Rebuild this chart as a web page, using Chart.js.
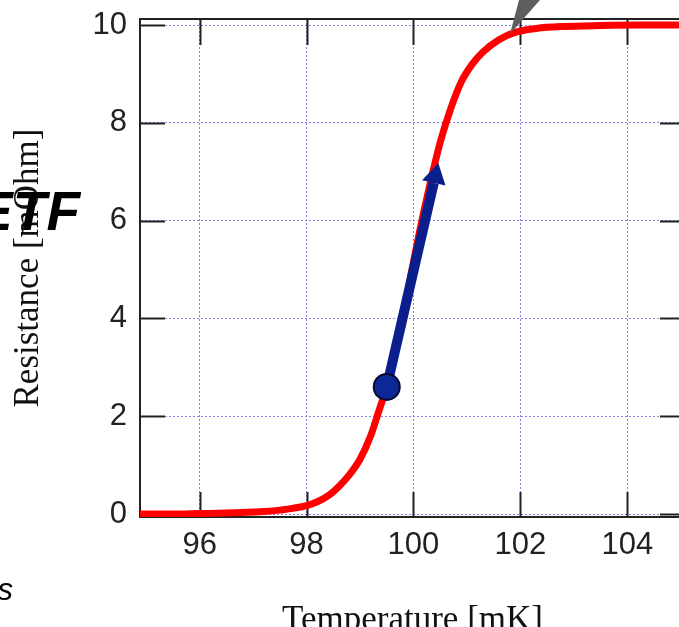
<!DOCTYPE html>
<html>
<head>
<meta charset="utf-8">
<script src="https://cdn.jsdelivr.net/npm/chart.js@4"></script>
<style>
html,body{margin:0;padding:0;overflow:hidden;background:#fff;width:679px;height:627px;}
#wrap{position:absolute;left:0;top:0;width:700px;height:627px;}
.ov{position:absolute;white-space:nowrap;color:#000;font-family:"Liberation Sans",Arial,sans-serif;}
#etf{right:599px;top:176px;font-size:55px;font-weight:bold;font-style:italic;line-height:70px;}
#s{right:666px;top:570px;font-size:31px;font-style:italic;line-height:40px;}
#ptr{position:absolute;left:0;top:0;}
</style>
</head>
<body>
<div id="wrap"><canvas id="c" width="700" height="627"></canvas></div>
<div class="ov" id="etf">ETF</div>
<div class="ov" id="s">s</div>
<svg id="ptr" width="679" height="627"><polygon points="510,34 519,0 540,0" fill="#5e5e5e"/></svg>
<script>
// Transition curve: temperature [mK] and resistance [mOhm]
const temperature = [94.9, 95.5, 96, 96.5, 97, 97.5, 98, 98.2, 98.4, 98.6, 98.8, 99.0, 99.2, 99.35, 99.5, 99.7, 99.9, 100.1, 100.3, 100.5, 100.7, 100.9, 101.1, 101.3, 101.6, 101.9, 102.3, 102.8, 103.5, 104.2, 105.1];
const resistance  = [0, 0, 0.01, 0.02, 0.04, 0.08, 0.17, 0.25, 0.37, 0.56, 0.8, 1.12, 1.6, 2.1, 2.6, 3.5, 4.6, 5.7, 6.7, 7.6, 8.3, 8.85, 9.2, 9.45, 9.7, 9.85, 9.93, 9.97, 9.99, 10, 10];
// Operating point and arrow (T, R)
const operatingPoint = [99.5, 2.6];
const arrowBase = [100.38, 6.77];
const arrowTip = [100.465, 7.18];
// Axis ticks
const xTicks = [96, 98, 100, 102, 104];
const yTicks = [0, 2, 4, 6, 8, 10];
const xRange = [94.884, 105.08];
const yRange = [-0.061, 10.123];

const curveData = temperature.map((t, i) => ({x: t, y: resistance[i]}));

const frame = {
  id: 'frame',
  beforeDatasetsDraw(chart) {
    const {ctx, chartArea: a, scales: {x, y}} = chart;
    ctx.save();
    ctx.strokeStyle = '#222';
    ctx.lineWidth = 2;
    ctx.beginPath();
    ctx.moveTo(a.left - 1, a.top); ctx.lineTo(a.right, a.top);
    xTicks.forEach(v => {
      const px = Math.round(x.getPixelForValue(v)) + 0.5;
      ctx.moveTo(px, a.bottom); ctx.lineTo(px, a.bottom - 25);
      ctx.moveTo(px, a.top); ctx.lineTo(px, a.top + 26);
    });
    yTicks.forEach(v => {
      const py = Math.round(y.getPixelForValue(v)) + 0.5;
      ctx.moveTo(a.left, py); ctx.lineTo(a.left + 25, py);
      ctx.moveTo(a.right, py); ctx.lineTo(a.right - 25, py);
    });
    ctx.stroke();
    ctx.restore();
  },
  afterDatasetsDraw(chart) {
    const {ctx, scales: {x, y}} = chart;
    const bx = x.getPixelForValue(arrowBase[0]), by = y.getPixelForValue(arrowBase[1]);
    const tx = x.getPixelForValue(arrowTip[0]), ty = y.getPixelForValue(arrowTip[1]);
    const dx = tx - bx, dy = ty - by, len = Math.hypot(dx, dy);
    const nx = -dy / len, ny = dx / len, hw = 12;
    ctx.save();
    ctx.fillStyle = '#0a1f8c';
    ctx.beginPath();
    ctx.moveTo(tx, ty);
    ctx.lineTo(bx + nx * hw, by + ny * hw);
    ctx.lineTo(bx - nx * hw, by - ny * hw);
    ctx.closePath();
    ctx.fill();
    ctx.restore();
  }
};

const gridOpts = {color: '#8585ec', lineWidth: 1, drawTicks: false};
const borderOpts = {display: true, color: '#222', width: 2, dash: [2, 2]};

new Chart(document.getElementById('c'), {
  type: 'scatter',
  data: {
    datasets: [
      {
        data: [{x: operatingPoint[0], y: operatingPoint[1]}],
        pointRadius: 13, pointBackgroundColor: '#0b2896', pointBorderColor: '#0a0a30', pointBorderWidth: 2,
        order: 0
      },
      {
        data: [{x: operatingPoint[0], y: operatingPoint[1]}, {x: arrowBase[0], y: arrowBase[1]}],
        showLine: true, borderColor: '#0a1f8c', borderWidth: 10, pointRadius: 0, borderCapStyle: 'butt',
        order: 1
      },
      {
        data: curveData,
        showLine: true, borderColor: '#ff0000', borderWidth: 7, pointRadius: 0,
        cubicInterpolationMode: 'monotone', borderJoinStyle: 'round', borderCapStyle: 'round',
        order: 2
      }
    ]
  },
  options: {
    responsive: false,
    animation: false,
    events: [],
    layout: {padding: {top: 19, right: 12, left: 0, bottom: 0}},
    plugins: {legend: {display: false}, tooltip: {enabled: false}},
    scales: {
      x: {
        type: 'linear', min: xRange[0], max: xRange[1],
        afterBuildTicks: s => { s.ticks = xTicks.map(v => ({value: v})); },
        afterFit: s => { s.height = 110; s.paddingLeft = 0; s.paddingRight = 0; },
        grid: gridOpts,
        border: borderOpts,
        ticks: {padding: 10, color: '#222', font: {family: '"Liberation Sans", Arial, sans-serif', size: 31}, callback: v => String(v)},
        title: {display: true, text: 'Temperature [mK]', color: '#111', padding: {top: 0, bottom: -15},
                font: {family: '"Liberation Serif", "Times New Roman", serif', size: 35}}
      },
      y: {
        type: 'linear', min: yRange[0], max: yRange[1],
        afterBuildTicks: s => { s.ticks = yTicks.map(v => ({value: v})); },
        afterFit: s => { s.width = 140; s.paddingTop = 0; s.paddingBottom = 0; },
        grid: gridOpts,
        border: borderOpts,
        ticks: {padding: 13, color: '#222', font: {family: '"Liberation Sans", Arial, sans-serif', size: 31}, callback: v => String(v)},
        title: {display: true, text: 'Resistance [mOhm]', color: '#111', padding: {top: 8, bottom: 0},
                font: {family: '"Liberation Serif", "Times New Roman", serif', size: 35}}
      }
    }
  },
  plugins: [frame]
});
</script>
</body>
</html>
